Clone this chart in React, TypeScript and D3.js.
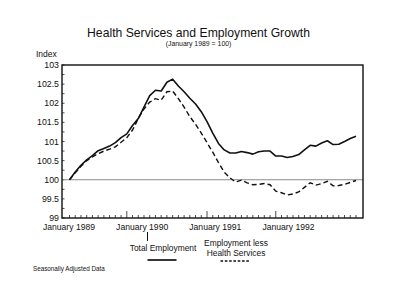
import React from "react";
import * as d3 from "d3";

// Monthly index values, January 1989 = 100 (Jan 1989 .. Mar 1993)
const totalEmployment = [
  100.0, 100.2, 100.38, 100.52, 100.63, 100.76, 100.82, 100.88, 100.97, 101.1,
  101.2, 101.42, 101.6, 101.9, 102.2, 102.34, 102.32, 102.55, 102.63, 102.45,
  102.3, 102.13, 101.98, 101.78, 101.52, 101.22, 100.95, 100.78, 100.7, 100.7,
  100.74, 100.71, 100.67, 100.73, 100.75, 100.75, 100.62, 100.62, 100.58, 100.61,
  100.66, 100.78, 100.9, 100.88, 100.96, 101.02, 100.92, 100.93, 101.0, 101.08,
  101.14,
];
const lessHealth = [
  100.0, 100.18, 100.35, 100.5, 100.6, 100.68, 100.75, 100.8, 100.86, 100.98,
  101.1, 101.3, 101.6, 101.85, 102.03, 102.12, 102.08, 102.3, 102.32, 102.12,
  101.9, 101.65, 101.45, 101.22, 100.97, 100.72, 100.45, 100.2, 100.05, 99.94,
  99.99, 99.92, 99.87, 99.88, 99.9, 99.87, 99.7, 99.66, 99.6, 99.63,
  99.68, 99.8, 99.92, 99.86, 99.9, 99.96, 99.84, 99.85, 99.88, 99.93,
  99.98,
];
const yTickLabels = [99, 99.5, 100, 100.5, 101, 101.5, 102, 102.5, 103];
const yMinorTicks = d3.range(99, 103.001, 0.25);
const monthTicks = d3.range(0, 51);
const majorMonthTicks = [10, 24, 36];
const yearLabels = ["January 1989", "January 1990", "January 1991", "January 1992"];

const FONT = "'Liberation Sans', Arial, Helvetica, sans-serif";

export default function App() {
  const W = 400, H = 304;
  const left = 62, right = 363, top = 65, bottom = 218;
  const x = d3.scaleLinear().domain([0, 50]).range([69.5, 356]);
  const y = d3.scaleLinear().domain([99, 103]).range([bottom, top]);
  const labelX = d3.scalePoint<string>().domain(yearLabels).range([69, 288.5]);
  const line = d3.line<number>().x((_, i) => x(i)).y((d) => y(d));

  return (
    <svg width={W} height={H} style={{ position: "absolute", left: 0, top: 0, background: "#fff" }} fontFamily={FONT}>
      <rect x={0} y={0} width={W} height={H} fill="#fff" />
      <text x={198.5} y={37} textAnchor="middle" fontSize={12.2} fill="#111">
        Health Services and Employment Growth
      </text>
      <text x={198.5} y={46} textAnchor="middle" fontSize={6.9} fill="#111">
        (January 1989 = 100)
      </text>
      <text x={36} y={57} fontSize={8.5} fill="#111">Index</text>

      {/* y ticks and labels */}
      {yMinorTicks.map((v) => (
        <line key={"ym" + v} x1={left} x2={left + 2.5} y1={y(v)} y2={y(v)} stroke="#222" strokeWidth={0.8} />
      ))}
      {yTickLabels.map((v) => (
        <text key={"yl" + v} x={59} y={y(v) + 3} textAnchor="end" fontSize={8.8} fill="#111">
          {String(v)}
        </text>
      ))}

      {/* x ticks */}
      {monthTicks.map((m) => (
        <line
          key={"xm" + m}
          x1={x(m)}
          x2={x(m)}
          y1={bottom}
          y2={bottom - (majorMonthTicks.includes(m) ? 7 : 3)}
          stroke="#222"
          strokeWidth={0.8}
        />
      ))}
      {yearLabels.map((l) => (
        <text key={l} x={labelX(l)} y={230} textAnchor="middle" fontSize={8.6} fill="#111">
          {l}
        </text>
      ))}

      {/* baseline at 100 */}
      <line x1={left} x2={right} y1={y(100)} y2={y(100)} stroke="#8a8a8a" strokeWidth={1.2} />

      {/* series */}
      <path d={line(lessHealth) || ""} fill="none" stroke="#111" strokeWidth={1.4} strokeDasharray="5,3" />
      <path d={line(totalEmployment) || ""} fill="none" stroke="#111" strokeWidth={1.6} strokeLinejoin="round" />

      {/* frame */}
      <rect x={left} y={top} width={right - left} height={bottom - top} fill="none" stroke="#111" strokeWidth={1.4} />

      {/* legend */}
      <line x1={147.5} x2={147.5} y1={232} y2={241} stroke="#111" strokeWidth={1} />
      <text x={163} y={251} textAnchor="middle" fontSize={8.4} fill="#111">Total Employment</text>
      <line x1={147.5} x2={176.5} y1={260} y2={260} stroke="#111" strokeWidth={1.7} />
      <text x={236} y={246} textAnchor="middle" fontSize={8.4} fill="#111">Employment less</text>
      <text x={236} y={256} textAnchor="middle" fontSize={8.4} fill="#111">Health Services</text>
      <line x1={220.5} x2={250.5} y1={261} y2={261} stroke="#111" strokeWidth={1.4} strokeDasharray="2.6,1.7" />

      <text x={33} y={270.5} fontSize={6.3} fill="#111">Seasonally Adjusted Data</text>
    </svg>
  );
}
